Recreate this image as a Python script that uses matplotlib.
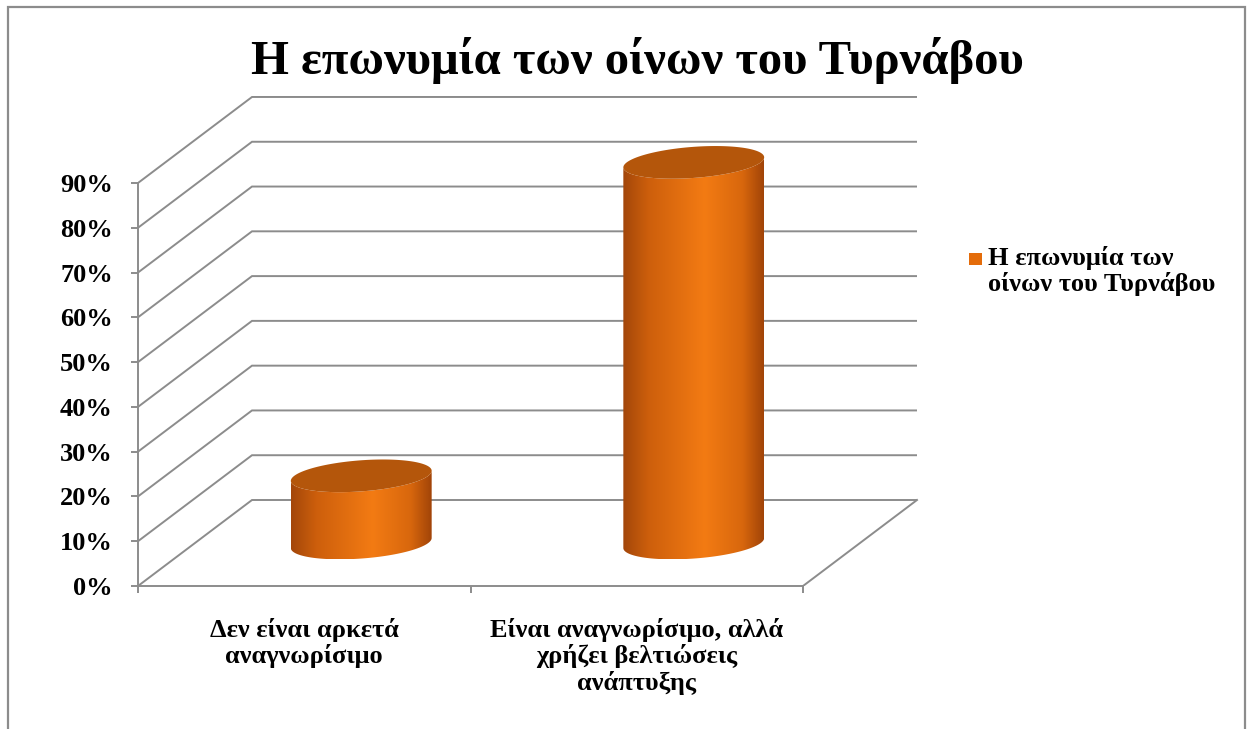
import numpy as np
import matplotlib
matplotlib.use("Agg")
import matplotlib.pyplot as plt
from matplotlib.patches import Polygon, Rectangle
from matplotlib.colors import LinearSegmentedColormap

# ---- data -------------------------------------------------------------
title = "Η επωνυμία των οίνων του Τυρνάβου"
series_name = "Η επωνυμία των\nοίνων του Τυρνάβου"
categories = ["Δεν είναι αρκετά\nαναγνωρίσιμο",
              "Είναι αναγνωρίσιμο, αλλά\nχρήζει βελτιώσεις\nανάπτυξης"]
values = [15, 85]
y_ticks = list(range(0, 100, 10))
y_tick_labels = [f"{v}%" for v in y_ticks]

# ---- style --------------------------------------------------------------
plt.rcParams["font.family"] = ["Liberation Serif", "DejaVu Serif"]
plt.rcParams["font.weight"] = "bold"
GRID = "#8C8C8C"
TOP_COLOR = "#B4560B"
LEGEND_COLOR = "#E46C0A"
body_cmap = LinearSegmentedColormap.from_list(
    "cyl", [(0.0, "#A3460A"), (0.18, "#CD5F0C"), (0.58, "#F37B13"),
            (0.85, "#D8670D"), (1.0, "#A14408")])

W, H = 1251, 729
fig = plt.figure(figsize=(W / 100, H / 100), dpi=100)

# plot area: front plane spans x in [-0.5, 1.5], y in [0, 90]
px_per_x = 332.5
px_per_y = 4.478
xlim = (-0.5, 1.9)
ylim = (0, 112)
ax = fig.add_axes([138 / W, (H - 586) / H,
                   (xlim[1] - xlim[0]) * px_per_x / W,
                   (ylim[1] - ylim[0]) * px_per_y / H])
ax.set_xlim(*xlim)
ax.set_ylim(*ylim)
ax.patch.set_visible(False)

# oblique depth offset (front -> back)
DX = 114 / px_per_x
DY = 86 / px_per_y

lw = 1.4
# back wall and side wall gridlines
for v in y_ticks:
    ax.plot([-0.5, -0.5 + DX, 1.5 + DX], [v, v + DY, v + DY],
            color=GRID, lw=lw, zorder=1, solid_joinstyle="miter",
            solid_capstyle="butt")
# floor right edge
ax.plot([1.5, 1.5 + DX], [0, DY], color=GRID, lw=lw, zorder=1)

# axes spines / ticks
for s in ("top", "right"):
    ax.spines[s].set_visible(False)
for s in ("left", "bottom"):
    ax.spines[s].set_color(GRID)
    ax.spines[s].set_linewidth(lw)
ax.spines["left"].set_bounds(0, 90)
ax.spines["bottom"].set_bounds(-0.5, 1.5)

ax.set_yticks(y_ticks)
ax.set_yticklabels(y_tick_labels)
ax.tick_params(axis="y", direction="out", length=5, width=lw, color=GRID,
               labelsize=19, pad=13)

ax.set_xticks([0, 1])
ax.set_xticklabels(categories, linespacing=1.12)
ax.set_xticks([-0.5, 0.5, 1.5], minor=True)
ax.tick_params(axis="x", which="major", length=0, labelsize=19, pad=23)
ax.tick_params(axis="x", which="minor", direction="out", length=5,
               width=lw, color=GRID)

# ---- cylinders ------------------------------------------------------------
R = 67 / px_per_x      # horizontal radius
rz = 0.19              # depth radius as fraction of full depth
phi = np.arctan2(rz * DX, R)
t_front = np.linspace(phi + np.pi, phi + 2 * np.pi, 200)
t_full = np.linspace(0, 2 * np.pi, 400)

for i, v in enumerate(values):
    cx = i + 0.5 * DX
    base = 0.5 * DY
    top = v + 0.5 * DY

    def ex(t):
        return cx + R * np.cos(t) + rz * DX * np.sin(t)

    def ey(t, c):
        return c + rz * DY * np.sin(t)

    bx, by = ex(t_front), ey(t_front, base)
    tx, ty = ex(t_front[::-1]), ey(t_front[::-1], top)
    body = Polygon(np.column_stack([np.r_[bx, tx], np.r_[by, ty]]),
                   closed=True, facecolor="none", edgecolor="none", zorder=3)
    ax.add_patch(body)
    xl, xr = ex(np.pi + phi), ex(phi)
    im = ax.imshow(np.linspace(0, 1, 256)[None, :], cmap=body_cmap,
                   extent=[xl, xr, base - rz * DY, top + rz * DY],
                   aspect="auto", interpolation="bilinear", zorder=3)
    im.set_clip_path(body)

    cap = Polygon(np.column_stack([ex(t_full), ey(t_full, top)]),
                  closed=True, facecolor=TOP_COLOR, edgecolor="none",
                  zorder=4)
    ax.add_patch(cap)

ax.set_xlim(*xlim)
ax.set_ylim(*ylim)

# ---- title ---------------------------------------------------------------
fig.text(637 / W, 1 - 60 / H, title, ha="center", va="center",
         fontsize=35, fontweight="bold")

# ---- legend --------------------------------------------------------------
fig.patches.append(Rectangle((969 / W, 1 - 265 / H), 13 / W, 12 / H,
                             transform=fig.transFigure,
                             facecolor=LEGEND_COLOR, edgecolor="none"))
fig.text(988 / W, 1 - 246 / H, series_name, ha="left", va="top",
         fontsize=19, fontweight="bold", linespacing=1.12)

# ---- chart border ----------------------------------------------------------
fig.patches.append(Rectangle((8 / W, -10 / H), (1245 - 8) / W,
                             (739 - 7) / H, transform=fig.transFigure,
                             facecolor="none", edgecolor=GRID, lw=1.6))

fig.savefig("out.png", dpi=100)
